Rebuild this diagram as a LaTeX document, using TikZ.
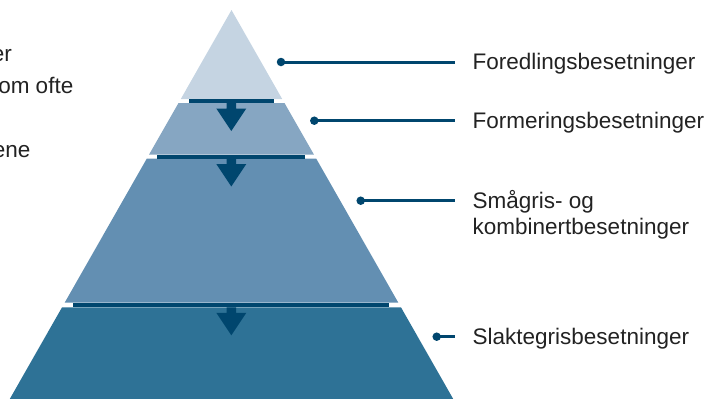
\documentclass[tikz,border=0pt]{standalone}
\usepackage{fontspec}
\setmainfont{Liberation Sans}
\usetikzlibrary{calc}
\definecolor{tierA}{RGB}{197,212,226}
\definecolor{tierB}{RGB}{134,166,194}
\definecolor{tierC}{RGB}{99,143,178}
\definecolor{tierD}{RGB}{46,114,150}
\definecolor{navy}{RGB}{0,70,110}
\definecolor{ink}{RGB}{34,34,34}

\begin{document}
\begin{tikzpicture}[x=1pt,y=-1pt,
  txt/.style={font=\fontsize{22.5}{26}\selectfont, text=ink, inner sep=0pt},
  labeltext/.style={txt, anchor=base west, align=left},
  leader/.style={draw=navy, line width=3pt},
  dot/.style={circle, fill=navy, inner sep=0pt, minimum size=8.5pt},
  flowarrow/.pic={\fill[navy] (-4.75,0) -- (4.75,0) -- (4.75,5.5) -- (15,5.5) -- (0,28) -- (-15,5.5) -- (-4.75,5.5) -- cycle;}
]
\useasboundingbox (0,0) rectangle (713,399);
\clip (0,0) rectangle (713,399);

% pyramid tiers, top to bottom
\fill[tierA] (231.5,10) -- (282.2,99) -- (180.8,99) -- cycle;
\fill[tierB] (178.5,103) -- (284.5,103) -- (313.9,154.5) -- (149.1,154.5) -- cycle;
\fill[tierC] (146.85,158.5) -- (316.15,158.5) -- (398.34,302.7) -- (64.66,302.7) -- cycle;
\fill[tierD] (62.04,307.3) -- (400.96,307.3) -- (453.23,399) -- (9.77,399) -- cycle;

% dark bands between the tiers
\fill[navy] (188.5,99) rectangle (273.5,103);
\fill[navy] (157.3,154.5) rectangle (304.7,158.5);
\fill[navy] (72.7,302.7) rectangle (389.3,307.3);

% downward flow arrows
\pic at (231.3,103) {flowarrow};
\pic at (231.3,158.5) {flowarrow};
\pic at (231.3,307.3) {flowarrow};

% labels (a multi-line node sits on the baseline of its last line)
\node[labeltext] (l1) at (472.5,69.5) {Foredlingsbesetninger};
\node[labeltext] (l2) at (472.5,128.3) {Formeringsbesetninger};
\node[labeltext] (l3) at (472.5,234.3) {Smågris- og\\kombinertbesetninger};
\node[labeltext] (l4) at (472.5,344.7) {Slaktegrisbesetninger};

% leader dots and lines
\node[dot] (d1) at (281,62) {};
\node[dot] (d2) at (314.3,120.7) {};
\node[dot] (d3) at (360.7,200.7) {};
\node[dot] (d4) at (436.7,336.7) {};
\draw[leader] (d1.center) -- ($(d1 -| l1.west)+(-17.5,0)$);
\draw[leader] (d2.center) -- ($(d2 -| l2.west)+(-17.5,0)$);
\draw[leader] (d3.center) -- ($(d3 -| l3.west)+(-17.5,0)$);
\draw[leader] (d4.center) -- ($(d4 -| l4.west)+(-17.5,0)$);

% body text running in from the left
\node[txt, anchor=base east] (p1) at (12,61.7) {er};
\node[txt, anchor=base east] (p2) at (73.5,93.3) {om ofte};
\node[txt, anchor=base east] (p3) at (30.5,157.7) {ene};
\end{tikzpicture}
\end{document}
